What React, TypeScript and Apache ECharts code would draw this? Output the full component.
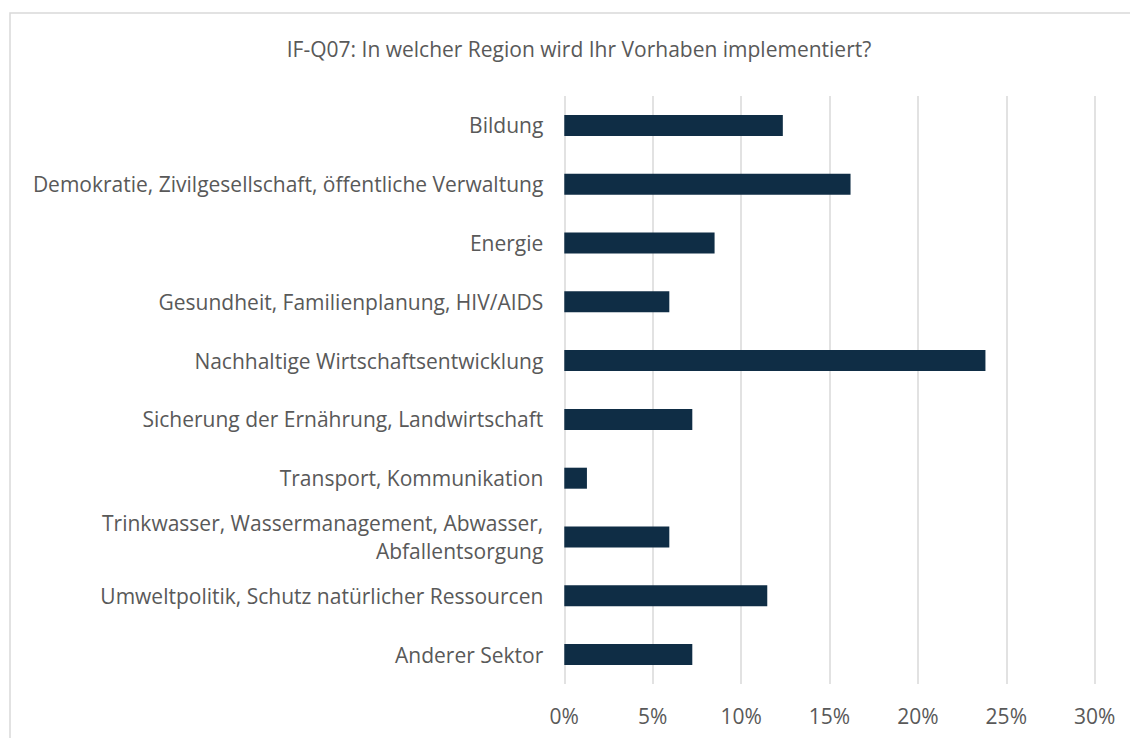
import React, { useEffect, useRef } from "react";
import * as echarts from "echarts";

const titleText = "IF-Q07: In welcher Region wird Ihr Vorhaben implementiert?";
const categories = [
  "Bildung",
  "Demokratie, Zivilgesellschaft, öffentliche Verwaltung",
  "Energie",
  "Gesundheit, Familienplanung, HIV/AIDS",
  "Nachhaltige Wirtschaftsentwicklung",
  "Sicherung der Ernährung, Landwirtschaft",
  "Transport, Kommunikation",
  "Trinkwasser, Wassermanagement, Abwasser, Abfallentsorgung",
  "Umweltpolitik, Schutz natürlicher Ressourcen",
  "Anderer Sektor",
];
const values = [12.36, 16.19, 8.5, 5.94, 23.82, 7.24, 1.28, 5.94, 11.48, 7.24];
const xTicks = [0, 5, 10, 15, 20, 25, 30];

export default function App() {
  const ref = useRef<HTMLDivElement>(null);
  useEffect(() => {
    if (!ref.current) return;
    const chart = echarts.init(ref.current, null, { renderer: "svg" });
    const font = "'Open Sans', sans-serif";
    chart.setOption({
      animation: false,
      backgroundColor: "#ffffff",
      graphic: [
        {
          type: "rect",
          shape: { x: 10, y: 13, width: 1300, height: 900 },
          style: { fill: "none", stroke: "#d9d9d9", lineWidth: 1.5 },
          silent: true,
          z: -1,
        },
      ],
      title: {
        text: titleText,
        left: 574,
        textAlign: "center",
        top: 33,
        textStyle: { color: "#595959", fontSize: 21, fontWeight: "normal", fontFamily: font },
      },
      grid: { left: 564.3, right: 35.3, top: 96, bottom: 54, containLabel: false },
      xAxis: {
        type: "value",
        min: xTicks[0],
        max: xTicks[xTicks.length - 1],
        interval: 5,
        axisLine: { show: false },
        axisTick: { show: false },
        splitLine: { show: true, lineStyle: { color: "#d9d9d9", width: 1.5 } },
        axisLabel: {
          color: "#595959",
          fontSize: 21,
          fontFamily: font,
          margin: 21,
          formatter: (v: number) => `${v}%`,
        },
      },
      yAxis: {
        type: "category",
        data: categories,
        inverse: true,
        axisLine: { show: false },
        axisTick: { show: false },
        axisLabel: {
          color: "#595959",
          fontSize: 21,
          fontFamily: font,
          margin: 21,
          lineHeight: 28,
          align: "right",
          formatter: (v: string) =>
            v === "Trinkwasser, Wassermanagement, Abwasser, Abfallentsorgung"
              ? "Trinkwasser, Wassermanagement, Abwasser,\nAbfallentsorgung"
              : v,
        },
      },
      series: [
        {
          type: "bar",
          data: values,
          barWidth: 21,
          itemStyle: { color: "#0f2d45" },
        },
      ],
    });
    return () => chart.dispose();
  }, []);
  return (
    <div
      ref={ref}
      style={{ position: "absolute", left: 0, top: 0, width: 1130, height: 738 }}
    />
  );
}
